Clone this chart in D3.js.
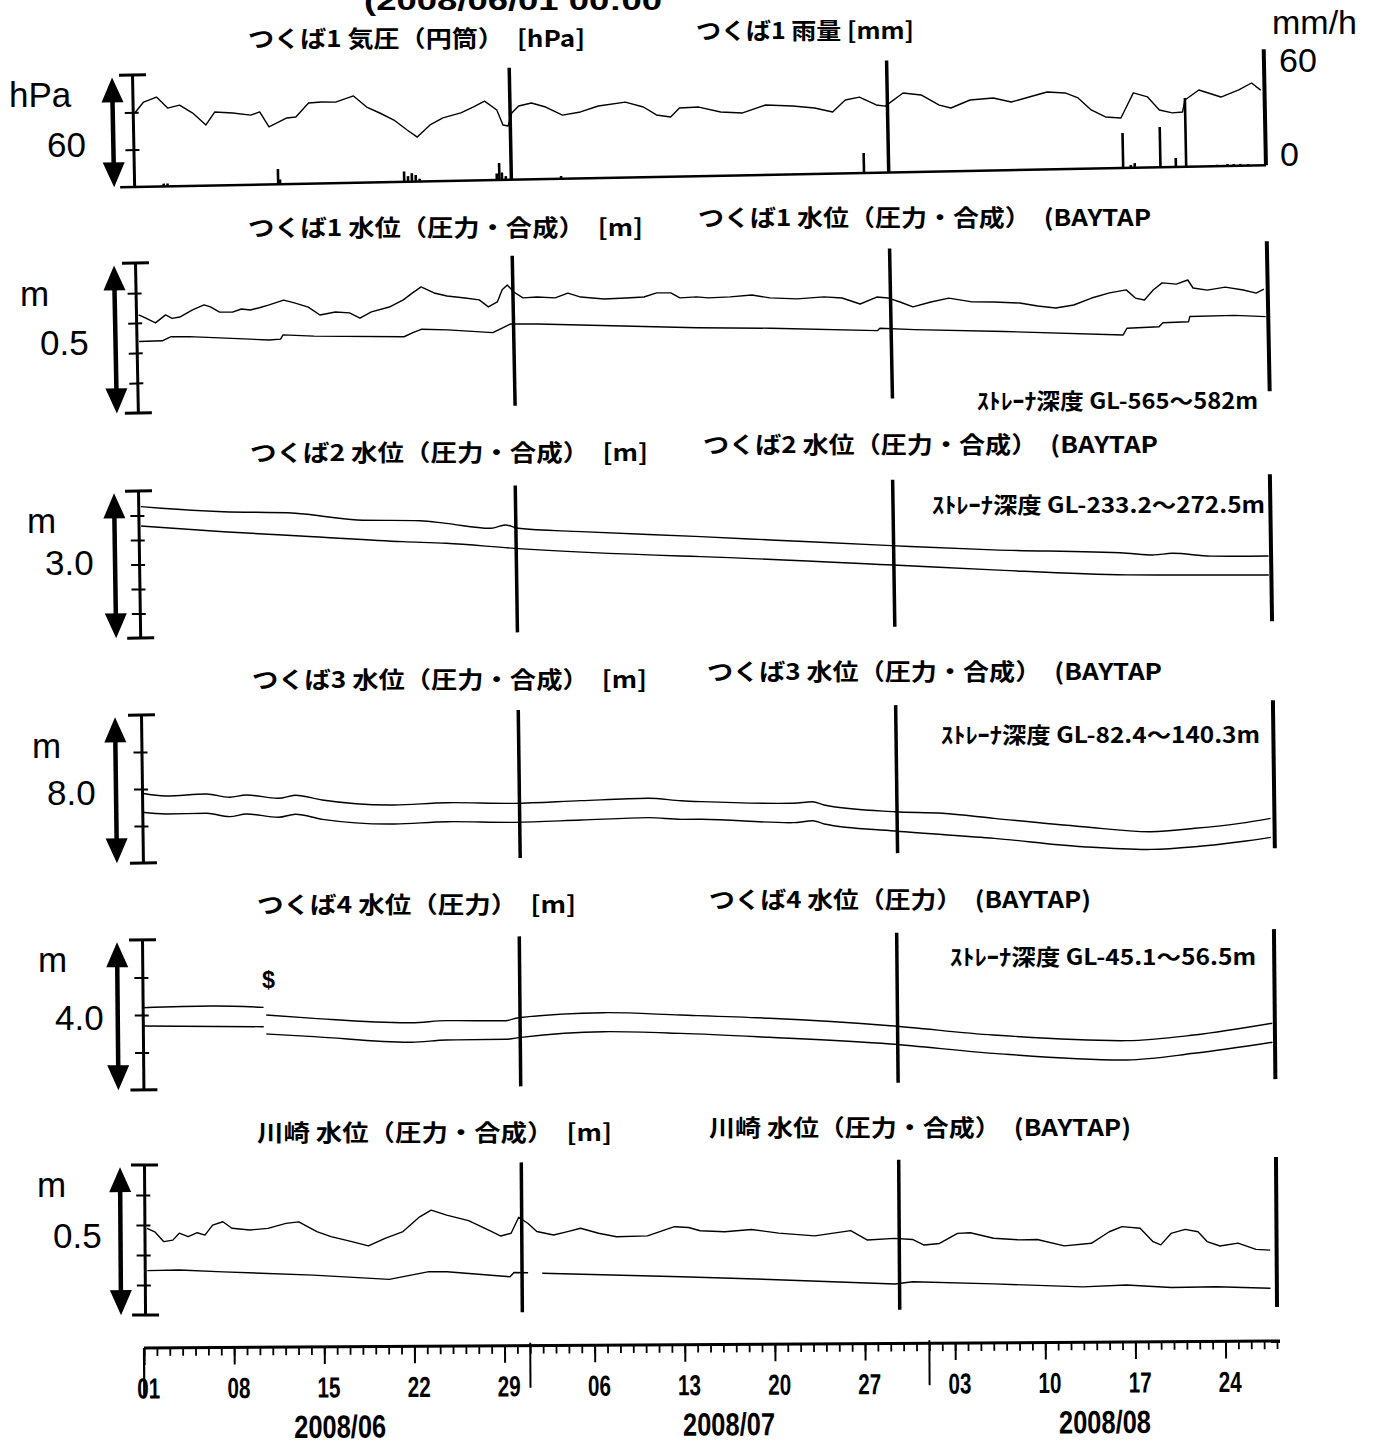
<!DOCTYPE html>
<html><head><meta charset="utf-8">
<script src="https://cdn.jsdelivr.net/npm/d3@7"></script>
<style>body{margin:0;background:#fff}svg{display:block}</style>
</head><body>
<svg id="chart" width="1379" height="1444"></svg>
<script>
// ---------------- DATA ----------------
const startDate = new Date(Date.UTC(2008, 5, 1));   // day 0 = 2008/06/01
const DAY_SPAN = 88;
const dividerDays = [29.33, 58.67];

// つくば1 気圧（円筒） [hPa]  (day, hPa)
const pressureHPa = [[0.16,999.6],[0.86,1005.4],[1.87,1007.9],[2.72,1001.9],[3.65,1003.4],[4.66,999.0],[5.67,992.5],[6.37,999.3],[7.77,998.6],[9.17,997.3],[9.87,998.9],[10.57,990.8],[11.97,995.4],[12.67,995.8],[13.68,1003.2],[14.69,1003.6],[15.78,1003.4],[17.18,1006.5],[18.19,1000.4],[19.2,997.1],[20.29,993.2],[21.3,987.7],[22.08,983.8],[23.09,990.2],[24.1,993.8],[25.5,996.3],[26.5,999.4],[27.36,1002.4],[28.3,997.5],[28.76,989.4],[29.15,988.8],[29.46,995.7],[30.0,999.4],[31.0,1000.9],[32.1,998.6],[33.4,994.1],[34.8,995.6],[36.2,998.6],[38.3,1000.4],[39.7,997.6],[40.7,993.2],[41.8,992.0],[42.5,996.7],[44.0,997.0],[45.7,994.1],[47.4,993.4],[49.2,997.4],[51.3,996.6],[53.0,995.3],[54.4,993.0],[55.4,999.3],[56.5,1000.7],[57.8,996.3],[58.5,995.6],[59.9,1002.4],[61.3,1001.2],[62.7,995.6],[63.6,993.9],[65.1,998.0],[66.9,998.8],[68.3,996.5],[69.7,999.0],[71.1,1001.5],[72.5,1000.8],[73.5,998.0],[74.5,991.4],[75.6,987.5],[76.8,986.8],[77.8,1000.1],[78.9,997.8],[79.8,990.7],[80.8,989.0],[81.6,989.4],[81.8,995.8],[82.9,1001.0],[84.6,997.0],[86.0,1000.6],[87.0,1004.2],[87.7,1000.3]];

// つくば1 雨量 [mm/h]  (day, mm/h)
const rainMMh = [[2.3,1.5],[2.6,1.5],[11.2,8.1],[11.35,2.5],[21.0,5.5],[21.3,3],[21.6,4.5],[21.9,3.5],[22.2,1.5],[28.2,3.5],[28.4,9.1],[28.6,4],[28.9,2],[33.2,1.5],[47.7,0.5],[56.75,10.7],[76.9,18.8],[77.5,1.5],[77.8,2.5],[79.8,21.6],[81.0,4.8],[81.8,36.9],[84.2,0.8],[85.0,1],[85.5,1],[86.0,1],[86.6,0.8]];

// つくば1 水位 [m]
const tsukuba1Level = [[0.2,0.327],[0.6,0.319],[1.5,0.299],[2.3,0.325],[2.8,0.313],[3.4,0.317],[4.4,0.340],[5.3,0.356],[5.8,0.349],[6.5,0.331],[7.5,0.330],[8.2,0.340],[8.9,0.336],[9.6,0.343],[10.3,0.351],[11.5,0.367],[12.4,0.356],[13.4,0.342],[14.3,0.315],[15.5,0.324],[16.6,0.320],[17.4,0.302],[18.3,0.322],[19.7,0.337],[20.8,0.360],[21.5,0.382],[22.2,0.402],[23.2,0.381],[24.2,0.370],[25.6,0.362],[26.7,0.355],[27.4,0.331],[28.1,0.347],[28.5,0.387],[28.9,0.403],[29.4,0.379],[30.1,0.359],[31.2,0.361],[32.6,0.357],[33.6,0.372],[34.6,0.358],[36.4,0.350],[38.1,0.352],[39.5,0.354],[40.5,0.367],[41.6,0.366],[42.3,0.349],[43.6,0.351],[44.5,0.347],[46.2,0.349],[47.9,0.354],[49.3,0.343],[51.4,0.338],[53.5,0.343],[54.9,0.338],[56.3,0.317],[57.6,0.339],[58.5,0.335],[59.4,0.321],[60.4,0.304],[61.8,0.319],[63.2,0.331],[65.0,0.317],[66.7,0.315],[68.7,0.310],[70.1,0.299],[71.5,0.291],[72.9,0.300],[74.3,0.322],[75.7,0.338],[77.0,0.347],[77.7,0.319],[78.4,0.312],[79.1,0.345],[79.8,0.368],[80.9,0.363],[81.8,0.376],[82.2,0.349],[83.3,0.341],[84.7,0.350],[86.1,0.339],[87.1,0.328],[87.7,0.341]];
const tsukuba1Baytap = [[0.2,0.238],[2.0,0.239],[2.7,0.252],[4.1,0.251],[10.3,0.235],[11.2,0.237],[11.4,0.251],[13.8,0.245],[20.8,0.237],[21.5,0.250],[22.2,0.261],[24.2,0.257],[27.7,0.245],[28.4,0.259],[29.1,0.273],[31.2,0.271],[43.6,0.248],[49.3,0.242],[57.6,0.227],[57.8,0.235],[60.5,0.228],[67.5,0.216],[76.7,0.197],[77.0,0.219],[79.5,0.222],[79.8,0.235],[81.8,0.237],[81.9,0.254],[85.4,0.255],[87.8,0.249]];

// つくば2 水位 [m]
const tsukuba2Level = [[0.2,2.680],[1.8,2.641],[6.6,2.551],[12.2,2.498],[17.0,2.343],[21.9,2.308],[23.9,2.247],[27.4,2.133],[28.5,2.196],[29.5,2.124],[34.4,2.037],[43.7,1.898],[49.1,1.810],[58.5,1.657],[66.4,1.539],[76.8,1.431],[78.9,1.388],[80.3,1.416],[83.3,1.347],[87.8,1.331]];
const tsukuba2Baytap = [[0.2,2.286],[6.6,2.143],[13.6,2.014],[20.5,1.886],[23.9,1.839],[29.2,1.716],[42.1,1.510],[43.7,1.490],[58.6,1.261],[66.4,1.131],[76.8,0.988],[80.3,0.973],[87.8,0.945]];

// つくば3 水位 [m]
const tsukuba3Level = [[0,3.768],[1.9,3.605],[5.0,3.686],[6.8,3.492],[8.1,3.600],[10.6,3.400],[11.9,3.551],[14.0,3.276],[19.6,2.957],[23.7,3.043],[28.9,2.962],[34.1,3.059],[39.3,3.141],[41.9,2.984],[43.5,2.919],[50.6,2.768],[52.1,2.838],[53.0,2.654],[58.5,2.238],[62.2,2.119],[66.2,1.811],[73.1,1.297],[78.4,0.978],[81.8,1.130],[85.3,1.368],[87.7,1.616]];
const tsukuba3Baytap = [[0,2.741],[1.9,2.632],[5.0,2.643],[6.8,2.443],[8.1,2.573],[10.6,2.373],[11.9,2.524],[14.0,2.232],[19.6,1.930],[23.7,2.016],[28.9,1.935],[34.1,2.011],[39.3,2.092],[41.9,1.978],[43.5,1.968],[50.6,1.719],[52.1,1.811],[53.0,1.627],[58.5,1.195],[66.2,0.730],[73.1,0.216],[78.4,0.02],[81.8,0.135],[85.3,0.373],[87.7,0.589]];

// つくば4 水位 [m]  (null = gap)
const tsukuba4Level = [[0,2.195],[5.3,2.221],[9.4,2.173],[9.5,null],[9.6,1.968],[13.3,1.867],[20.9,1.725],[23.6,1.771],[28.2,1.755],[29.2,1.832],[35.8,1.944],[41.8,1.861],[48.7,1.752],[58.1,1.523],[66.1,1.248],[76.5,1.064],[81.7,1.197],[87.8,1.491]];
const tsukuba4Baytap = [[0,1.707],[9.4,1.656],[9.5,null],[9.6,1.461],[13.3,1.379],[20.9,1.203],[23.6,1.256],[28.2,1.259],[29.4,1.307],[35.8,1.437],[41.8,1.373],[48.7,1.245],[58.1,1.035],[66.1,0.760],[76.5,0.549],[81.7,0.709],[87.8,0.984]];

// 川崎 水位 [m]
const kawasakiLevel = [[0.2,0.289],[0.8,0.277],[1.5,0.244],[2.2,0.249],[2.7,0.272],[3.4,0.260],[4.1,0.273],[4.7,0.265],[5.3,0.298],[6.1,0.309],[6.8,0.287],[8.2,0.281],[9.6,0.286],[11.0,0.302],[12.0,0.307],[13.4,0.274],[14.5,0.257],[16.2,0.239],[17.4,0.225],[18.7,0.250],[20.1,0.272],[21.4,0.321],[22.3,0.343],[23.5,0.326],[25.2,0.307],[27.0,0.270],[27.7,0.255],[28.5,0.264],[29.1,0.317],[29.8,0.297],[30.5,0.269],[31.8,0.257],[32.9,0.268],[33.9,0.279],[35.3,0.262],[36.7,0.250],[39.1,0.252],[41.2,0.282],[42.3,0.279],[43.2,0.268],[45.1,0.264],[47.2,0.271],[49.3,0.258],[52.1,0.248],[54.9,0.265],[56.2,0.233],[58.3,0.238],[59.7,0.234],[60.6,0.215],[61.8,0.220],[63.2,0.253],[64.2,0.255],[66.0,0.236],[68.0,0.230],[69.4,0.231],[71.5,0.209],[73.6,0.217],[75.0,0.255],[76.0,0.272],[77.4,0.266],[78.4,0.221],[79.0,0.210],[79.8,0.248],[80.9,0.261],[81.9,0.253],[82.6,0.220],[83.6,0.205],[85.0,0.214],[86.4,0.193],[87.5,0.190]];
const kawasakiBaytap = [[0.2,0.148],[2.7,0.149],[6.1,0.142],[13.1,0.129],[19.0,0.113],[22.1,0.138],[23.5,0.137],[28.4,0.119],[28.7,0.133],[29.8,0.132],[30.3,null],[30.9,0.130],[41.7,0.115],[48.6,0.104],[58.3,0.086],[59.7,0.093],[66.0,0.084],[72.9,0.072],[76.3,0.077],[79.8,0.068],[83.3,0.069],[87.5,0.063]];

// text
const leftTitles = ["つくば1 気圧（円筒）　[hPa]","つくば1 水位（圧力・合成）　[m]","つくば2 水位（圧力・合成）　[m]","つくば3 水位（圧力・合成）　[m]","つくば4 水位（圧力）　[m]","川崎 水位（圧力・合成）　[m]"];
const rightTitles = ["つくば1 雨量 [mm]","つくば1 水位（圧力・合成）　(BAYTAP","つくば2 水位（圧力・合成）　(BAYTAP","つくば3 水位（圧力・合成）　(BAYTAP","つくば4 水位（圧力）　(BAYTAP)","川崎 水位（圧力・合成）　(BAYTAP)"];
const strainerNotes = [null,"ｽﾄﾚｰﾅ深度 GL-565〜582m","ｽﾄﾚｰﾅ深度 GL-233.2〜272.5m","ｽﾄﾚｰﾅ深度 GL-82.4〜140.3m","ｽﾄﾚｰﾅ深度 GL-45.1〜56.5m",null];
const unitLabels = ["hPa","m","m","m","m","m"];
const rangeLabels = ["60","0.5","3.0","8.0","4.0","0.5"];
const rainAxisLabels = ["mm/h","60","0"];
const majorTickDays = [0,7,14,21,28,35,42,49,56,63,70,77,84];
const monthBoundaryDays = [30,61];
const monthLabels = ["2008/06","2008/07","2008/08"];
const monthLabelDays = [15.2,45.4,74.6];
const headerText = "(2008/06/01 00:00";

// ---------------- LAYOUT ----------------
const W = 1132;
const JP = '"Noto Sans CJK JP","Noto Sans CJK SC",sans-serif';
const LAT = '"Liberation Sans",Arial,sans-serif';
const panelLayout = [
  {x0:132,y0:75,h:112,angle:1.1,arrowX:-20,domain:[960,1020],step:20},
  {x0:135,y0:263,h:150,angle:1.1,arrowX:-21,domain:[0,0.5],step:0.1},
  {x0:138,y0:491,h:147,angle:0.85,arrowX:-24,domain:[0,3],step:0.5},
  {x0:141,y0:715,h:148,angle:0.75,arrowX:-26,domain:[0,8],step:2},
  {x0:142,y0:940,h:150,angle:0.55,arrowX:-25,domain:[0,4],step:1},
  {x0:144,y0:1165,h:150,angle:0.4,arrowX:-24,domain:[0,0.5],step:0.1}
];
const panelSeries = [[pressureHPa],[tsukuba1Level,tsukuba1Baytap],[tsukuba2Level,tsukuba2Baytap],[tsukuba3Level,tsukuba3Baytap],[tsukuba4Level,tsukuba4Baytap],[kawasakiLevel,kawasakiBaytap]];
const smoothPanels = [false,false,true,true,true,false];
const leftTitlePos = [[248,38,337],[248,227,395],[250,452,398],[252,679,395],[257,904,319],[257,1132,355]];
const rightTitlePos = [[696,30,218],[698,217,453],[703,444,455],[707,671,455],[709,899,382],[709,1127,422]];
const notePos = [null,[977,401,281],[932,505,333],[941,735,319],[950,957,306],null];
const unitPos = [[9,107],[20,306],[27,533],[32,758],[38,972],[37,1197]];
const rangePos = [[47,157],[40,355],[45,575],[47,805],[55,1030],[53,1248]];

const svg = d3.select('#chart');
svg.append('rect').attr('width',1379).attr('height',1444).attr('fill','#fff');

function jpText(str, pos, size) {
  svg.append('text').attr('x',pos[0]).attr('y',pos[1]+size*0.38)
    .attr('font-family',JP).attr('font-weight',700).attr('font-size',size)
    .attr('textLength',pos[2]).attr('lengthAdjust','spacingAndGlyphs').attr('fill','#000').text(str);
}

// header (cut off at top, as in the original scan)
svg.append('text').attr('x',364).attr('y',10).attr('font-family',LAT).attr('font-weight',700)
  .attr('font-size',28).attr('textLength',298).attr('lengthAdjust','spacingAndGlyphs').text(headerText);

panelLayout.forEach((L, i) => {
  const g = svg.append('g').attr('transform',`translate(${L.x0},${L.y0}) rotate(${-L.angle})`);
  const x = d3.scaleLinear().domain([0,DAY_SPAN]).range([0,W]);
  const y = d3.scaleLinear().domain(L.domain).range([L.h,0]);
  const ticks = d3.range(L.domain[0], L.domain[1] + L.step/2, L.step);
  const yTop = y(L.domain[1]), yBot = y(L.domain[0]);

  // left axis
  const ax = g.append('g').call(d3.axisLeft(y).tickValues(ticks.slice(1,-1)).tickSizeInner(8).tickSizeOuter(0).tickFormat(''));
  ax.select('.domain').attr('stroke','#000').attr('stroke-width',3);
  ax.selectAll('.tick line').attr('stroke','#000').attr('stroke-width',2).attr('x1',6);
  g.append('line').attr('x1',-13).attr('x2',14).attr('y1',yTop).attr('y2',yTop).attr('stroke','#000').attr('stroke-width',3);
  if (i !== 0) g.append('line').attr('x1',-13).attr('x2',14).attr('y1',yBot).attr('y2',yBot).attr('stroke','#000').attr('stroke-width',3);

  // double-headed arrow
  const a = L.arrowX;
  g.append('line').attr('x1',a).attr('x2',a).attr('y1',yTop+20).attr('y2',yBot-20).attr('stroke','#000').attr('stroke-width',4.5);
  g.append('path').attr('d',`M${a},${yTop+2}L${a-11},${yTop+27}L${a+11},${yTop+27}Z`).attr('fill','#000');
  g.append('path').attr('d',`M${a},${yBot}L${a-11},${yBot-25}L${a+11},${yBot-25}Z`).attr('fill','#000');

  // dividers & right frame line
  g.selectAll('line.div').data(dividerDays).join('line').attr('class','div')
    .attr('x1',d=>x(d)).attr('x2',d=>x(d)).attr('y1',yTop).attr('y2',yBot)
    .attr('stroke','#000').attr('stroke-width',3.5);
  g.append('line').attr('x1',x(DAY_SPAN)).attr('x2',x(DAY_SPAN)).attr('y1',i===0?yTop-4:yTop).attr('y2',yBot)
    .attr('stroke','#000').attr('stroke-width',4);

  if (i === 0) {
    const yr = d3.scaleLinear().domain([0,60]).range([L.h,0]);
    g.append('line').attr('x1',-14).attr('x2',x(DAY_SPAN)).attr('y1',yr(0)).attr('y2',yr(0)).attr('stroke','#000').attr('stroke-width',2.5);
    g.selectAll('rect.rain').data(rainMMh).join('rect').attr('class','rain')
      .attr('x',d=>x(d[0])-1.3).attr('width',2.6)
      .attr('y',d=>yr(d[1])).attr('height',d=>yr(0)-yr(d[1])).attr('fill','#000');
  }

  const line = d3.line().defined(d=>d[1]!=null).x(d=>x(d[0])).y(d=>y(d[1]))
    .curve(smoothPanels[i] ? d3.curveMonotoneX : d3.curveLinear);
  panelSeries[i].forEach(s => {
    g.append('path').datum(s).attr('d',line).attr('fill','none').attr('stroke','#000')
      .attr('stroke-width',1.4).attr('stroke-linejoin','round');
  });

  if (i === 4) {
    svg.append('text').attr('x',262).attr('y',988).attr('font-family',LAT).attr('font-weight',700)
      .attr('font-size',24).attr('textLength',13).attr('lengthAdjust','spacingAndGlyphs').text('$');
  }

  // texts (screen coords)
  jpText(leftTitles[i], leftTitlePos[i], 23);
  jpText(rightTitles[i], rightTitlePos[i], 23);
  if (strainerNotes[i]) jpText(strainerNotes[i], notePos[i], 22);
  svg.append('text').attr('x',unitPos[i][0]).attr('y',unitPos[i][1]).attr('font-family',LAT)
    .attr('font-size',35).text(unitLabels[i]);
  svg.append('text').attr('x',rangePos[i][0]).attr('y',rangePos[i][1]).attr('font-family',LAT)
    .attr('font-size',35).text(rangeLabels[i]);
});

// rain axis labels
const rainLabelPos = [[1272,34],[1279,72],[1280,166]];
rainAxisLabels.forEach((t,k) => svg.append('text').attr('x',rainLabelPos[k][0]).attr('y',rainLabelPos[k][1])
  .attr('font-family',LAT).attr('font-size',34).text(t));

// ---------------- bottom time axis ----------------
const xa = d3.scaleLinear().domain([0,DAY_SPAN]).range([0,1133]);
const fmtDay = d => d3.utcFormat('%d')(new Date(startDate.getTime() + d*864e5));
const axG = svg.append('g').attr('transform','translate(144,1348) rotate(-0.35)');
const minor = axG.append('g').call(d3.axisBottom(xa).tickValues(d3.range(0,DAY_SPAN+1)).tickSize(8).tickSizeOuter(0).tickFormat(''));
minor.select('.domain').attr('stroke','#000').attr('stroke-width',3).attr('d','M0,0H1136');
minor.selectAll('.tick line').attr('stroke','#000').attr('stroke-width',1.8);
const major = axG.append('g').call(d3.axisBottom(xa).tickValues(majorTickDays).tickSize(17).tickSizeOuter(0).tickFormat(fmtDay));
major.select('.domain').remove();
major.selectAll('.tick line').attr('stroke','#000').attr('stroke-width',2);
major.selectAll('.tick text').attr('y',30).attr('dy','0.71em').attr('dx',4)
  .attr('font-family',LAT).attr('font-weight',700).attr('font-size',29).attr('fill','#000')
  .attr('textLength',23).attr('lengthAdjust','spacingAndGlyphs');
axG.append('line').attr('x1',xa(0)).attr('x2',xa(0)).attr('y1',0).attr('y2',48).attr('stroke','#000').attr('stroke-width',2.2);
axG.selectAll('line.mb').data(monthBoundaryDays).join('line').attr('class','mb')
  .attr('x1',d=>xa(d)).attr('x2',d=>xa(d)).attr('y1',-3).attr('y2',42).attr('stroke','#000').attr('stroke-width',2);
axG.selectAll('text.month').data(monthLabels).join('text').attr('class','month')
  .attr('x',(d,k)=>xa(monthLabelDays[k])).attr('y',91).attr('text-anchor','middle')
  .attr('font-family',LAT).attr('font-weight',700).attr('font-size',32)
  .attr('textLength',92).attr('lengthAdjust','spacingAndGlyphs').text(d=>d);
</script>
</body></html>
